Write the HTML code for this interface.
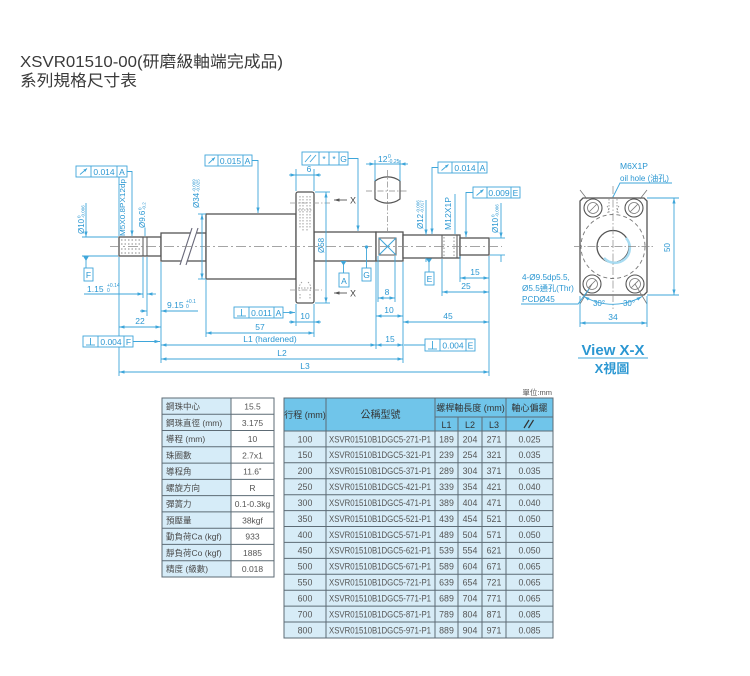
<!DOCTYPE html>
<html><head><meta charset="utf-8">
<style>
html,body{margin:0;padding:0;background:#fff;width:750px;height:676px;overflow:hidden}
svg{display:block}
text{font-family:"Liberation Sans","Noto Sans CJK TC",sans-serif}
</style></head><body>
<svg width="750" height="676" viewBox="0 0 750 676" xmlns="http://www.w3.org/2000/svg">
<defs>
<marker id="a" markerWidth="6" markerHeight="4" refX="5.5" refY="2" orient="auto-start-reverse" markerUnits="userSpaceOnUse"><path d="M0,0.4 L5.5,2 L0,3.6z" fill="#3ea6da"/></marker>
<marker id="s" markerWidth="4" markerHeight="3" refX="3.5" refY="1.5" orient="auto" markerUnits="userSpaceOnUse"><path d="M0,0 L3.5,1.5 L0,3z" fill="#3ea6da"/></marker>
<marker id="g" markerWidth="6" markerHeight="4" refX="5.5" refY="2" orient="auto" markerUnits="userSpaceOnUse"><path d="M0,0.4 L5.5,2 L0,3.6z" fill="#555"/></marker>
</defs>
<rect width="750" height="676" fill="#fff"/>

<!-- Title -->
<text x="20" y="67" font-size="16" fill="#3a3a3a" textLength="263" lengthAdjust="spacingAndGlyphs">XSVR01510-00(研磨級軸端完成品)</text>
<text x="20" y="86" font-size="16" fill="#3a3a3a" textLength="117" lengthAdjust="spacingAndGlyphs">系列規格尺寸表</text>

<!-- Part outlines -->
<g fill="#fff" stroke="#555" stroke-width="1.3">
<rect x="119" y="237" width="42" height="19"/>
<rect x="161" y="233" width="45" height="28"/>
<rect x="314" y="232" width="62" height="29"/>
<rect x="376" y="232" width="27" height="29"/>
<rect x="403" y="235" width="57" height="23"/>
<rect x="460" y="238" width="29" height="17"/>
<rect x="206" y="214" width="90" height="65"/>
<rect x="296" y="192" width="18" height="111" rx="2"/>
</g>
<g stroke="#555" stroke-width="1" fill="none">
<line x1="143" y1="237" x2="143" y2="256"/>
<line x1="147" y1="237" x2="147" y2="256"/>
<line x1="442" y1="235" x2="442" y2="258"/>
<line x1="457" y1="235" x2="457" y2="258"/>
<rect x="379" y="238" width="17" height="17"/>
</g>
<!-- thread dots -->
<g stroke="#888" stroke-width="0.9" stroke-dasharray="1.5,2" fill="none">
<line x1="121" y1="240" x2="141" y2="240"/>
<line x1="121" y1="244" x2="141" y2="244"/>
<line x1="121" y1="249" x2="141" y2="249"/>
<line x1="121" y1="253" x2="141" y2="253"/>
<line x1="444" y1="237" x2="444" y2="256"/>
<line x1="454" y1="237" x2="454" y2="256"/>
</g>
<!-- flange hidden -->
<g stroke="#888" stroke-width="0.8" stroke-dasharray="1.5,1.5" fill="none">
<line x1="300" y1="196" x2="300" y2="228"/>
<line x1="303" y1="196" x2="303" y2="232"/>
<line x1="307" y1="196" x2="307" y2="232"/>
<line x1="310" y1="196" x2="310" y2="228"/>
<line x1="298" y1="210" x2="312" y2="210"/>
<path d="M302,282 q-4,4 -2,9 M308,282 q4,4 2,9 M300,294 l0,6 M310,294 l0,6 M298,288 l14,0"/>
</g>
<g stroke="#999" stroke-width="0.7" stroke-dasharray="6,2,1.5,2" fill="none">
<line x1="290" y1="203" x2="330" y2="203"/>
<line x1="290" y1="290" x2="322" y2="290"/>
</g>
<!-- break -->
<polygon points="180,263 192,230 198,230 186,263" fill="#fff"/>
<g stroke="#667" stroke-width="1.1"><line x1="180" y1="265" x2="192" y2="228"/><line x1="186" y1="265" x2="198" y2="228"/></g>

<!-- center line -->
<line x1="110" y1="246.5" x2="502" y2="246.5" stroke="#888" stroke-width="0.7" stroke-dasharray="10,3,2,3"/>

<!-- oblong -->
<path d="M375,199 L375,181 A21,21 0 0 1 400,181 L400,199 A21,21 0 0 1 375,199 Z" fill="#fff" stroke="#555" stroke-width="1.2"/>
<g stroke="#888" stroke-width="0.7" stroke-dasharray="6,2,1.5,2"><line x1="387.5" y1="170" x2="387.5" y2="231"/><line x1="366" y1="191" x2="408" y2="191"/></g>

<!-- wrench X -->
<g stroke="#3ea6da" stroke-width="1"><line x1="379" y1="238" x2="396" y2="255"/><line x1="396" y1="238" x2="379" y2="255"/></g>

<!-- BLUE dimension lines -->
<g stroke="#3ea6da" stroke-width="0.9" fill="none">
<!-- box1 leader -->
<polyline points="127,171.5 132,171.5 132,236" marker-end="url(#a)"/>
<line x1="119" y1="172" x2="119" y2="236"/>
<!-- Ø10 left -->
<line x1="82" y1="237" x2="118" y2="237"/>
<line x1="82" y1="256" x2="118" y2="256"/>
<line x1="86" y1="203" x2="86" y2="237" marker-end="url(#a)"/>
<line x1="86" y1="256" x2="86" y2="268"/>
<line x1="145" y1="228" x2="145" y2="236"/>
<!-- 1.15 -->
<line x1="143" y1="257" x2="143" y2="298"/>
<line x1="147" y1="257" x2="147" y2="316"/>
<line x1="84" y1="294" x2="143" y2="294" marker-end="url(#a)"/>
<line x1="156" y1="294" x2="147" y2="294" marker-end="url(#a)"/>
<!-- 9.15 -->
<line x1="198" y1="311" x2="161" y2="311" marker-end="url(#a)"/>
<line x1="140" y1="311" x2="147" y2="311" marker-end="url(#a)"/>
<!-- ext lines -->
<line x1="119" y1="257" x2="119" y2="376"/>
<line x1="161" y1="262" x2="161" y2="363"/>
<line x1="206" y1="280" x2="206" y2="337"/>
<line x1="314" y1="304" x2="314" y2="337"/>
<line x1="296" y1="304" x2="296" y2="326"/>
<line x1="376" y1="262" x2="376" y2="349"/>
<line x1="403" y1="262" x2="403" y2="363"/>
<line x1="489" y1="256" x2="489" y2="376"/>
<line x1="378" y1="256" x2="378" y2="302"/>
<line x1="395" y1="256" x2="395" y2="302"/>
<line x1="460" y1="256" x2="460" y2="282"/>
<line x1="442" y1="259" x2="442" y2="296"/>
<!-- 22 -->
<line x1="119" y1="327" x2="161" y2="327" marker-start="url(#a)" marker-end="url(#a)"/>
<!-- box7 leader -->
<line x1="133" y1="341.5" x2="160" y2="341.5" marker-end="url(#a)"/>
<!-- Ø34 -->
<line x1="198" y1="214" x2="206" y2="214"/>
<line x1="198" y1="279" x2="206" y2="279"/>
<line x1="202" y1="214" x2="202" y2="279" marker-start="url(#a)" marker-end="url(#a)"/>
<!-- box2 leader -->
<polyline points="252,160.5 258,160.5 258,213" marker-end="url(#a)"/>
<!-- 57 -->
<line x1="206" y1="333" x2="314" y2="333" marker-start="url(#a)" marker-end="url(#a)"/>
<!-- 10 flange -->
<line x1="289" y1="322" x2="296" y2="322" marker-end="url(#a)"/>
<line x1="321" y1="322" x2="314" y2="322" marker-end="url(#a)"/>
<line x1="296" y1="322" x2="314" y2="322"/>
<!-- box6 leader -->
<line x1="283" y1="312.5" x2="295" y2="312.5" marker-end="url(#a)"/>
<!-- L1, 15, L2, L3 -->
<line x1="161" y1="345" x2="376" y2="345" marker-start="url(#a)" marker-end="url(#a)"/>
<line x1="376" y1="345" x2="403" y2="345" marker-start="url(#a)" marker-end="url(#a)"/>
<line x1="425" y1="345" x2="404" y2="345"/>
<line x1="161" y1="359" x2="403" y2="359" marker-start="url(#a)" marker-end="url(#a)"/>
<line x1="119" y1="372" x2="489" y2="372" marker-start="url(#a)" marker-end="url(#a)"/>
<!-- 45 -->
<line x1="403" y1="322" x2="489" y2="322" marker-start="url(#a)" marker-end="url(#a)"/>
<!-- 6 -->
<line x1="296" y1="169" x2="296" y2="191"/>
<line x1="314" y1="169" x2="314" y2="191"/>
<line x1="289" y1="175" x2="296" y2="175" marker-end="url(#a)"/>
<line x1="321" y1="175" x2="314" y2="175" marker-end="url(#a)"/>
<line x1="296" y1="175" x2="314" y2="175"/>
<!-- box3 leader -->
<polyline points="348,158.5 358,158.5 358,231" marker-end="url(#a)"/>
<!-- Ø58 -->
<line x1="315" y1="192" x2="330" y2="192"/>
<line x1="315" y1="303" x2="330" y2="303"/>
<line x1="326" y1="192" x2="326" y2="303" marker-start="url(#a)" marker-end="url(#a)"/>
<!-- datum A, G -->
<line x1="343.5" y1="262" x2="343.5" y2="273"/>
<line x1="366.5" y1="247" x2="366.5" y2="268"/>
<!-- 12 -->
<line x1="375" y1="160" x2="375" y2="181"/>
<line x1="400" y1="160" x2="400" y2="181"/>
<line x1="366" y1="164" x2="375" y2="164" marker-end="url(#a)"/>
<line x1="408" y1="164" x2="400" y2="164" marker-end="url(#a)"/>
<line x1="375" y1="164" x2="400" y2="164"/>
<!-- 8 -->
<line x1="378" y1="298" x2="395" y2="298" marker-start="url(#a)" marker-end="url(#a)"/>
<!-- 10 -->
<line x1="376" y1="316" x2="403" y2="316" marker-start="url(#a)" marker-end="url(#a)"/>
<!-- box4 leader -->
<polyline points="438,167.5 432,167.5 432,234" marker-end="url(#a)"/>
<!-- Ø12 -->
<line x1="426" y1="200" x2="426" y2="235" marker-end="url(#a)"/>
<line x1="426" y1="258" x2="426" y2="262"/>
<line x1="429" y1="259" x2="429" y2="272"/>
<!-- M12 -->
<line x1="455" y1="194" x2="455" y2="234"/>
<!-- box5 leader -->
<polyline points="473,192.5 466,192.5 466,237" marker-end="url(#a)"/>
<!-- Ø10 right -->
<line x1="490" y1="238" x2="505" y2="238"/>
<line x1="490" y1="255" x2="505" y2="255"/>
<line x1="501" y1="203" x2="501" y2="238" marker-end="url(#a)"/>
<line x1="501" y1="255" x2="501" y2="262"/>
<!-- 15, 25 -->
<line x1="460" y1="278" x2="489" y2="278" marker-start="url(#a)" marker-end="url(#a)"/>
<line x1="442" y1="292" x2="489" y2="292" marker-start="url(#a)" marker-end="url(#a)"/>
</g>

<!-- datum triangles -->
<g fill="#3ea6da">
<path d="M83,256 L89,256 L86,261z"/>
<path d="M340.5,261 L346.5,261 L343.5,265.5z"/>
<circle cx="366.5" cy="247" r="1.6"/>
<path d="M426,258.5 L432,258.5 L429,263z"/>
</g>

<!-- X arrows -->
<g stroke="#555" stroke-width="0.9">
<line x1="347" y1="200" x2="334" y2="200" marker-end="url(#g)"/>
<line x1="347" y1="293" x2="334" y2="293" marker-end="url(#g)"/>
</g>
<g fill="#444" font-size="9"><text x="350" y="203.5">X</text><text x="350" y="296.5">X</text></g>

<!-- Tolerance boxes -->
<g fill="#fff" stroke="#3ea6da" stroke-width="0.9">
<rect x="76" y="166" width="51" height="11"/>
<rect x="205" y="155" width="47" height="11"/>
<rect x="302" y="152" width="46" height="13"/>
<rect x="438" y="162" width="49" height="11"/>
<rect x="473" y="187" width="47" height="11"/>
<rect x="234" y="307" width="49" height="11"/>
<rect x="83" y="336" width="50" height="11"/>
<rect x="425" y="339" width="50" height="12"/>
<rect x="84" y="268" width="9" height="13"/>
<rect x="339" y="273" width="10" height="14"/>
<rect x="362" y="268" width="9" height="13"/>
<rect x="425" y="272" width="9" height="13"/>
</g>
<g stroke="#3ea6da" stroke-width="0.9" fill="none">
<line x1="91" y1="166" x2="91" y2="177"/><line x1="117" y1="166" x2="117" y2="177"/>
<line x1="218" y1="155" x2="218" y2="166"/><line x1="243" y1="155" x2="243" y2="166"/>
<line x1="319" y1="152" x2="319" y2="165"/><line x1="329" y1="152" x2="329" y2="165"/><line x1="339" y1="152" x2="339" y2="165"/>
<line x1="452" y1="162" x2="452" y2="173"/><line x1="478" y1="162" x2="478" y2="173"/>
<line x1="487" y1="187" x2="487" y2="198"/><line x1="511" y1="187" x2="511" y2="198"/>
<line x1="249" y1="307" x2="249" y2="318"/><line x1="274" y1="307" x2="274" y2="318"/>
<line x1="98" y1="336" x2="98" y2="347"/><line x1="124" y1="336" x2="124" y2="347"/>
<line x1="440" y1="339" x2="440" y2="351"/><line x1="466" y1="339" x2="466" y2="351"/>
<!-- symbols -->
<line x1="80" y1="174.5" x2="87" y2="168.5" marker-end="url(#s)"/>
<line x1="208.5" y1="163.5" x2="215" y2="157.5" marker-end="url(#s)"/>
<line x1="441.5" y1="170.5" x2="448.5" y2="164.5" marker-end="url(#s)"/>
<line x1="476.5" y1="195.5" x2="483.5" y2="189.5" marker-end="url(#s)"/>
<line x1="305" y1="162" x2="311" y2="155"/><line x1="310" y1="162" x2="316" y2="155"/>
<line x1="241.5" y1="309" x2="241.5" y2="316"/><line x1="237" y1="316" x2="246" y2="316"/>
<line x1="90.5" y1="338" x2="90.5" y2="345"/><line x1="86" y1="345" x2="95" y2="345"/>
<line x1="432.5" y1="341" x2="432.5" y2="349"/><line x1="428" y1="349" x2="437" y2="349"/>
</g>

<!-- Blue texts -->
<g fill="#2b97d2" font-size="8.5" text-anchor="middle">
<text x="104" y="174.8">0.014</text><text x="122" y="174.8">A</text>
<text x="230.5" y="163.8">0.015</text><text x="247.5" y="163.8">A</text>
<text x="324" y="162">*</text><text x="334" y="162">*</text><text x="343.5" y="162">G</text>
<text x="465" y="170.8">0.014</text><text x="482.5" y="170.8">A</text>
<text x="499" y="195.8">0.009</text><text x="515.5" y="195.8">E</text>
<text x="261.5" y="315.8">0.011</text><text x="278.5" y="315.8">A</text>
<text x="111" y="344.8">0.004</text><text x="128.5" y="344.8">F</text>
<text x="453" y="348.5">0.004</text><text x="470.5" y="348.5">E</text>
<text x="88.5" y="278">F</text>
<text x="344" y="284">A</text>
<text x="366.5" y="278">G</text>
<text x="429.5" y="282">E</text>
<text x="140" y="324">22</text>
<text x="260" y="330">57</text>
<text x="305" y="319">10</text>
<text x="270" y="342">L1 (hardened)</text>
<text x="390" y="342">15</text>
<text x="282" y="356">L2</text>
<text x="305" y="369">L3</text>
<text x="448" y="319">45</text>
<text x="309" y="172">6</text>
<text x="387" y="295">8</text>
<text x="389" y="313">10</text>
<text x="475" y="275">15</text>
<text x="466" y="289">25</text>
</g>
<g fill="#2b97d2" font-size="8.5">
<text x="87" y="292">1.15</text>
<text x="107" y="287" font-size="5">+0.14</text><text x="107" y="292" font-size="5">0</text>
<text x="167" y="308">9.15</text>
<text x="186" y="303" font-size="5">+0.1</text><text x="186" y="308" font-size="5">0</text>
<text x="378" y="162">12</text>
<text x="388" y="158" font-size="5">0</text><text x="388" y="163" font-size="5">-0.25</text>
</g>
<!-- rotated texts -->
<g fill="#2b97d2" font-size="8">
<g transform="translate(84,234) rotate(-90)"><text x="0" y="0">Ø10</text><text x="16" y="-3.5" font-size="4.5">0</text><text x="16" y="0.5" font-size="4.5">-0.006</text></g>
<g transform="translate(125,236) rotate(-90)"><text x="0" y="0" font-size="7.5" textLength="57" lengthAdjust="spacingAndGlyphs">M5X0.8PX12dp</text></g>
<g transform="translate(145,228) rotate(-90)"><text x="0" y="0">Ø9.6</text><text x="18" y="-3.5" font-size="4.5">0</text><text x="18" y="0.5" font-size="4.5">-0.2</text></g>
<g transform="translate(199,208) rotate(-90)"><text x="0" y="0">Ø34</text><text x="16" y="-3.5" font-size="4.5">-0.009</text><text x="16" y="0.5" font-size="4.5">-0.025</text></g>
<g transform="translate(324,253) rotate(-90)"><text x="0" y="0">Ø58</text></g>
<g transform="translate(423,229) rotate(-90)"><text x="0" y="0">Ø12</text><text x="16" y="-3.5" font-size="4.5">-0.006</text><text x="16" y="0.5" font-size="4.5">-0.017</text></g>
<g transform="translate(451,230) rotate(-90)"><text x="0" y="0" textLength="33" lengthAdjust="spacingAndGlyphs">M12X1P</text></g>
<g transform="translate(498,233) rotate(-90)"><text x="0" y="0">Ø10</text><text x="16" y="-3.5" font-size="4.5">0</text><text x="16" y="0.5" font-size="4.5">-0.006</text></g>
<g transform="translate(670,252) rotate(-90)"><text x="0" y="0">50</text></g>
</g>

<!-- Right view X-X -->
<path d="M583,198 L644,198 L647,201 L647,292 L644,295 L583,295 L580,292 L580,201 Z" fill="#fff" stroke="#555" stroke-width="1.3"/>
<circle cx="613" cy="246.5" r="32" fill="none" stroke="#777" stroke-width="0.9" stroke-dasharray="4,3"/>
<circle cx="613" cy="246.5" r="16" fill="#fff" stroke="#555" stroke-width="1.3"/>
<path d="M626,238 A14.5,14.5 0 0 1 604,258" fill="none" stroke="#a8dcf2" stroke-width="2.5"/>
<g fill="#fff" stroke="#555" stroke-width="1.1">
<circle cx="593" cy="208" r="9"/><circle cx="634" cy="208" r="9"/>
<circle cx="592" cy="284" r="9"/><circle cx="635" cy="284" r="9"/>
</g>
<g fill="none" stroke="#777" stroke-width="0.8">
<circle cx="593" cy="208" r="5.5"/><circle cx="634" cy="208" r="5.5"/>
<circle cx="592" cy="284" r="5.5"/><circle cx="635" cy="284" r="5.5"/>
<line x1="589" y1="212" x2="597" y2="204"/><line x1="630" y1="212" x2="638" y2="204"/>
<line x1="588" y1="288" x2="596" y2="280"/><line x1="631" y1="288" x2="639" y2="280"/>
<line x1="580" y1="190" x2="587" y2="199"/><line x1="647" y1="190" x2="640" y2="199"/>
<line x1="592" y1="284" x2="580" y2="304"/><line x1="635" y1="284" x2="647" y2="304"/>
</g>
<g stroke="#888" stroke-width="0.8" stroke-dasharray="1.5,1.5" fill="none">
<line x1="609" y1="199" x2="609" y2="214"/><line x1="617" y1="199" x2="617" y2="214"/>
<path d="M607,206 q3,4 0,8 M619,206 q-3,4 0,8"/>
</g>
<g stroke="#888" stroke-width="0.7" stroke-dasharray="8,2,1.5,2">
<line x1="574" y1="246.5" x2="653" y2="246.5"/>
<line x1="613" y1="186" x2="613" y2="309"/>
</g>
<g stroke="#3ea6da" stroke-width="0.9" fill="none">
<line x1="647" y1="198" x2="679" y2="198"/>
<line x1="647" y1="295" x2="679" y2="295"/>
<line x1="674" y1="198" x2="674" y2="295" marker-start="url(#a)" marker-end="url(#a)"/>
<line x1="580" y1="296" x2="580" y2="327"/>
<line x1="647" y1="296" x2="647" y2="327"/>
<line x1="580" y1="323" x2="647" y2="323" marker-start="url(#a)" marker-end="url(#a)"/>
<path d="M584,296.5 A58,58 0 0 0 642,296.5" marker-start="url(#a)" marker-end="url(#a)"/>
<polyline points="521,304 578,304 589,289"/>
<polyline points="672,183 620,183 613,197"/>
<line x1="578" y1="358" x2="648" y2="358"/>
</g>
<g fill="#2b97d2" font-size="8.5">
<text x="620" y="169">M6X1P</text>
<text x="620" y="181" font-size="8">oil hole (油孔)</text>
<text x="522" y="280" font-size="8.2">4-Ø9.5dp5.5,</text>
<text x="522" y="291" font-size="8.2">Ø5.5通孔(Thr)</text>
<text x="522" y="302" font-size="8.2">PCDØ45</text>
<text x="599" y="306" font-size="8" text-anchor="middle">30°</text>
<text x="629" y="306" font-size="8" text-anchor="middle">30°</text>
<text x="613" y="320" text-anchor="middle">34</text>
<text x="613" y="355" font-size="15" font-weight="bold" text-anchor="middle">View X-X</text>
<text x="612" y="373" font-size="13" font-weight="bold" text-anchor="middle">X視圖</text>
</g>

<!-- LEFT TABLE -->
<rect x="162" y="398" width="112" height="179" fill="#fff"/>
<rect x="162" y="398" width="69" height="179" fill="#d6ecf8"/>
<g stroke="#5d6b75" stroke-width="1" fill="none">
<rect x="162" y="398" width="112" height="179"/>
<line x1="231" y1="398" x2="231" y2="577"/>
<line x1="162" y1="414.3" x2="274" y2="414.3"/>
<line x1="162" y1="430.5" x2="274" y2="430.5"/>
<line x1="162" y1="446.8" x2="274" y2="446.8"/>
<line x1="162" y1="463.1" x2="274" y2="463.1"/>
<line x1="162" y1="479.4" x2="274" y2="479.4"/>
<line x1="162" y1="495.6" x2="274" y2="495.6"/>
<line x1="162" y1="511.9" x2="274" y2="511.9"/>
<line x1="162" y1="528.2" x2="274" y2="528.2"/>
<line x1="162" y1="544.4" x2="274" y2="544.4"/>
<line x1="162" y1="560.7" x2="274" y2="560.7"/>
</g>
<g fill="#4a4a4a" font-size="8.5">
<text x="166" y="409.5">鋼珠中心</text>
<text x="166" y="425.8">鋼珠直徑 (mm)</text>
<text x="166" y="442">導程 (mm)</text>
<text x="166" y="458.3">珠圈數</text>
<text x="166" y="474.6">導程角</text>
<text x="166" y="490.9">螺旋方向</text>
<text x="166" y="507.1">彈簧力</text>
<text x="166" y="523.4">預壓量</text>
<text x="166" y="539.7">動負荷Ca (kgf)</text>
<text x="166" y="555.9">靜負荷Co (kgf)</text>
<text x="166" y="572.2">精度 (級數)</text>
</g>
<g fill="#555" font-size="8.5" text-anchor="middle">
<text x="252.5" y="409.5">15.5</text>
<text x="252.5" y="425.8">3.175</text>
<text x="252.5" y="442">10</text>
<text x="252.5" y="458.3">2.7x1</text>
<text x="252.5" y="474.6">11.6˚</text>
<text x="252.5" y="490.9">R</text>
<text x="252.5" y="507.1">0.1-0.3kg</text>
<text x="252.5" y="523.4">38kgf</text>
<text x="252.5" y="539.7">933</text>
<text x="252.5" y="555.9">1885</text>
<text x="252.5" y="572.2">0.018</text>
</g>

<!-- RIGHT TABLE -->
<text x="552" y="395" font-size="7.5" fill="#555" text-anchor="end">單位:mm</text>
<rect x="284" y="398" width="269" height="240" fill="#d7ecf7"/>
<rect x="284" y="398" width="269" height="33" fill="#70c5ea"/>
<g stroke="#5d6b75" stroke-width="1" fill="none">
<rect x="284" y="398" width="269" height="240"/>
<line x1="435" y1="417" x2="506" y2="417"/>
<line x1="506" y1="417" x2="553" y2="417"/>
<line x1="284" y1="431" x2="553" y2="431"/>
<line x1="284" y1="446.9" x2="553" y2="446.9"/>
<line x1="284" y1="462.8" x2="553" y2="462.8"/>
<line x1="284" y1="478.8" x2="553" y2="478.8"/>
<line x1="284" y1="494.7" x2="553" y2="494.7"/>
<line x1="284" y1="510.6" x2="553" y2="510.6"/>
<line x1="284" y1="526.5" x2="553" y2="526.5"/>
<line x1="284" y1="542.4" x2="553" y2="542.4"/>
<line x1="284" y1="558.4" x2="553" y2="558.4"/>
<line x1="284" y1="574.3" x2="553" y2="574.3"/>
<line x1="284" y1="590.2" x2="553" y2="590.2"/>
<line x1="284" y1="606.1" x2="553" y2="606.1"/>
<line x1="284" y1="622" x2="553" y2="622"/>
<line x1="326" y1="398" x2="326" y2="638"/>
<line x1="435" y1="398" x2="435" y2="638"/>
<line x1="458" y1="417" x2="458" y2="638"/>
<line x1="482" y1="417" x2="482" y2="638"/>
<line x1="506" y1="398" x2="506" y2="638"/>
</g>
<g fill="#333" font-size="9" text-anchor="middle">
<text x="305" y="418">行程 (mm)</text>
<text x="380.5" y="418" font-size="10">公稱型號</text>
<text x="470.5" y="411">螺桿軸長度 (mm)</text>
<text x="529.5" y="411">軸心偏擺</text>
<text x="446.5" y="428">L1</text>
<text x="470" y="428">L2</text>
<text x="494" y="428">L3</text>
</g>
<g stroke="#333" stroke-width="1.2"><line x1="524" y1="428" x2="529" y2="420"/><line x1="528.5" y1="428" x2="533.5" y2="420"/></g>
<g fill="#555" font-size="8.8" text-anchor="middle">
<text x="305" y="442.3">100</text><text x="446.5" y="442.3">189</text><text x="470" y="442.3">204</text><text x="494" y="442.3">271</text><text x="529.5" y="442.3">0.025</text>
<text x="305" y="458.2">150</text><text x="446.5" y="458.2">239</text><text x="470" y="458.2">254</text><text x="494" y="458.2">321</text><text x="529.5" y="458.2">0.035</text>
<text x="305" y="474.1">200</text><text x="446.5" y="474.1">289</text><text x="470" y="474.1">304</text><text x="494" y="474.1">371</text><text x="529.5" y="474.1">0.035</text>
<text x="305" y="490.1">250</text><text x="446.5" y="490.1">339</text><text x="470" y="490.1">354</text><text x="494" y="490.1">421</text><text x="529.5" y="490.1">0.040</text>
<text x="305" y="506">300</text><text x="446.5" y="506">389</text><text x="470" y="506">404</text><text x="494" y="506">471</text><text x="529.5" y="506">0.040</text>
<text x="305" y="521.9">350</text><text x="446.5" y="521.9">439</text><text x="470" y="521.9">454</text><text x="494" y="521.9">521</text><text x="529.5" y="521.9">0.050</text>
<text x="305" y="537.8">400</text><text x="446.5" y="537.8">489</text><text x="470" y="537.8">504</text><text x="494" y="537.8">571</text><text x="529.5" y="537.8">0.050</text>
<text x="305" y="553.7">450</text><text x="446.5" y="553.7">539</text><text x="470" y="553.7">554</text><text x="494" y="553.7">621</text><text x="529.5" y="553.7">0.050</text>
<text x="305" y="569.7">500</text><text x="446.5" y="569.7">589</text><text x="470" y="569.7">604</text><text x="494" y="569.7">671</text><text x="529.5" y="569.7">0.065</text>
<text x="305" y="585.6">550</text><text x="446.5" y="585.6">639</text><text x="470" y="585.6">654</text><text x="494" y="585.6">721</text><text x="529.5" y="585.6">0.065</text>
<text x="305" y="601.5">600</text><text x="446.5" y="601.5">689</text><text x="470" y="601.5">704</text><text x="494" y="601.5">771</text><text x="529.5" y="601.5">0.065</text>
<text x="305" y="617.4">700</text><text x="446.5" y="617.4">789</text><text x="470" y="617.4">804</text><text x="494" y="617.4">871</text><text x="529.5" y="617.4">0.085</text>
<text x="305" y="633.3">800</text><text x="446.5" y="633.3">889</text><text x="470" y="633.3">904</text><text x="494" y="633.3">971</text><text x="529.5" y="633.3">0.085</text>
</g>
<g fill="#555" font-size="8.8">
<text x="329" y="442.3" textLength="102" lengthAdjust="spacingAndGlyphs">XSVR01510B1DGC5-271-P1</text>
<text x="329" y="458.2" textLength="102" lengthAdjust="spacingAndGlyphs">XSVR01510B1DGC5-321-P1</text>
<text x="329" y="474.1" textLength="102" lengthAdjust="spacingAndGlyphs">XSVR01510B1DGC5-371-P1</text>
<text x="329" y="490.1" textLength="102" lengthAdjust="spacingAndGlyphs">XSVR01510B1DGC5-421-P1</text>
<text x="329" y="506" textLength="102" lengthAdjust="spacingAndGlyphs">XSVR01510B1DGC5-471-P1</text>
<text x="329" y="521.9" textLength="102" lengthAdjust="spacingAndGlyphs">XSVR01510B1DGC5-521-P1</text>
<text x="329" y="537.8" textLength="102" lengthAdjust="spacingAndGlyphs">XSVR01510B1DGC5-571-P1</text>
<text x="329" y="553.7" textLength="102" lengthAdjust="spacingAndGlyphs">XSVR01510B1DGC5-621-P1</text>
<text x="329" y="569.7" textLength="102" lengthAdjust="spacingAndGlyphs">XSVR01510B1DGC5-671-P1</text>
<text x="329" y="585.6" textLength="102" lengthAdjust="spacingAndGlyphs">XSVR01510B1DGC5-721-P1</text>
<text x="329" y="601.5" textLength="102" lengthAdjust="spacingAndGlyphs">XSVR01510B1DGC5-771-P1</text>
<text x="329" y="617.4" textLength="102" lengthAdjust="spacingAndGlyphs">XSVR01510B1DGC5-871-P1</text>
<text x="329" y="633.3" textLength="102" lengthAdjust="spacingAndGlyphs">XSVR01510B1DGC5-971-P1</text>
</g>
</svg>
</body></html>
